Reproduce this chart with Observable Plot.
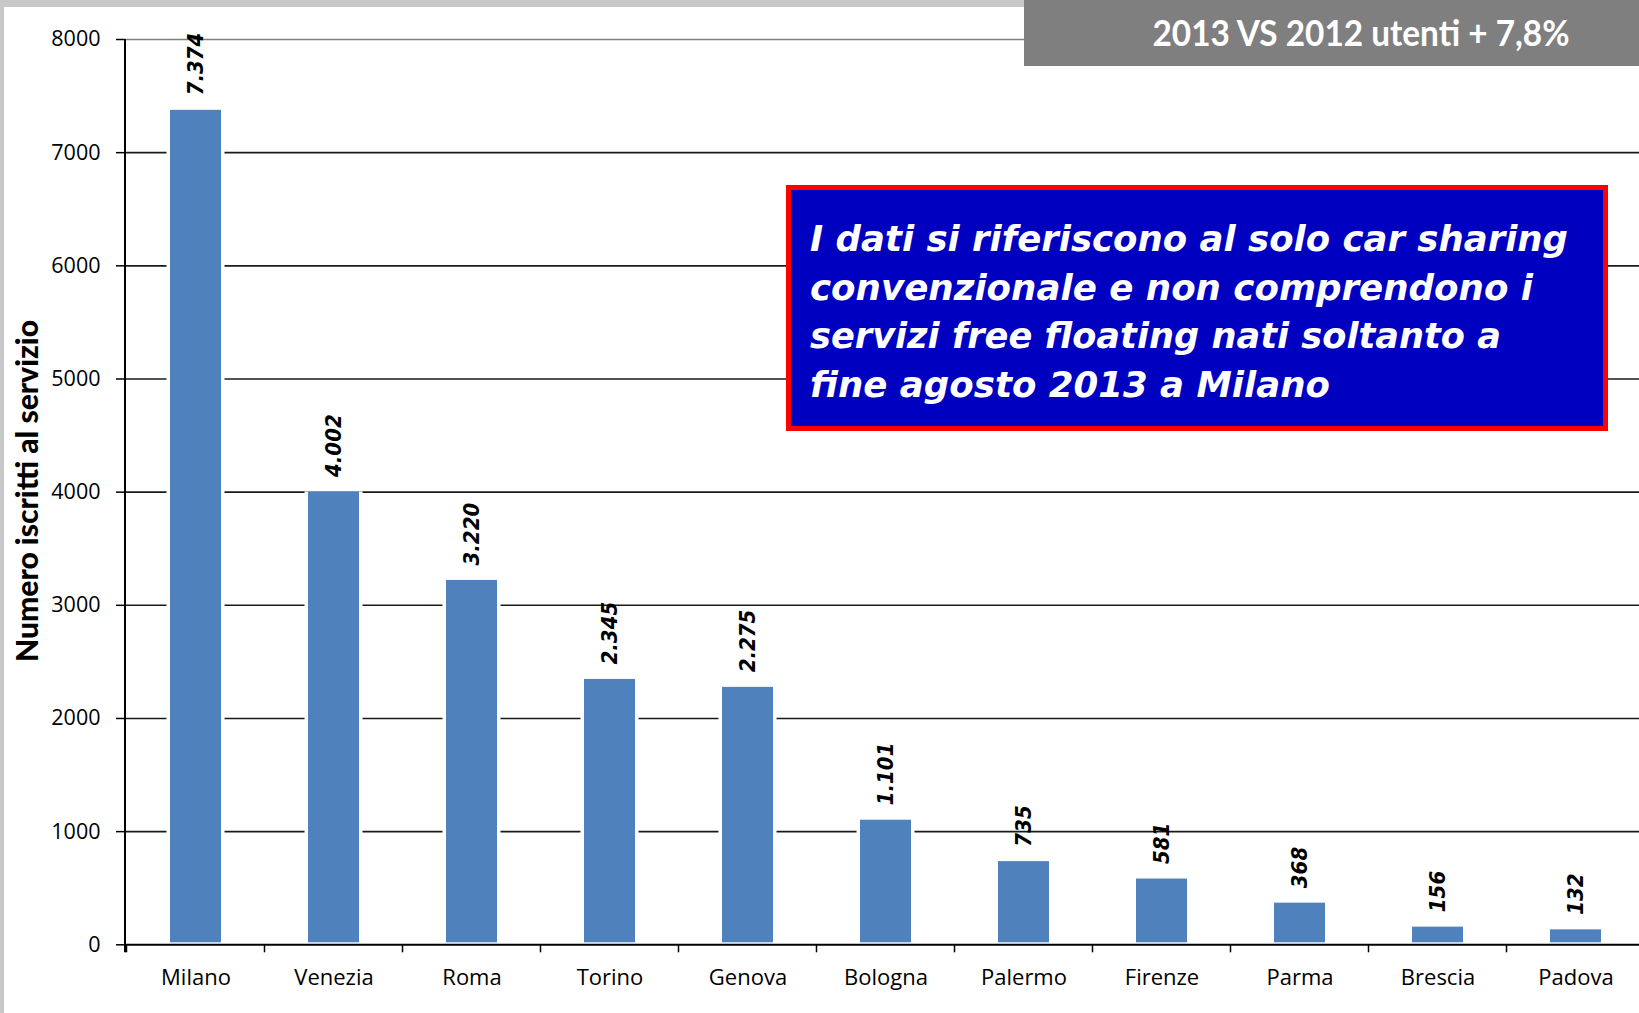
<!DOCTYPE html>
<html><head><meta charset="utf-8">
<script src="https://cdn.jsdelivr.net/npm/d3@7"></script>
<script src="https://cdn.jsdelivr.net/npm/@observablehq/plot@0.6"></script>
<style>
html,body{margin:0;padding:0;background:#fff;}
#wrap{position:relative;width:1639px;height:1013px;overflow:hidden;}
#wrap svg{position:absolute;left:0;top:0;}
</style></head><body><div id="wrap"></div>
<script>
const cities = ["Milano","Venezia","Roma","Torino","Genova","Bologna","Palermo","Firenze","Parma","Brescia","Padova"];
const subscribers = [7374, 4002, 3220, 2345, 2275, 1101, 735, 581, 368, 156, 132];
const yTicks = [0, 1000, 2000, 3000, 4000, 5000, 6000, 7000, 8000];
const yTitle = "Numero iscritti al servizio";
const boxTitle = "2013 VS 2012 utenti + 7,8%";
const noteLines = [
  "I dati si riferiscono al solo car sharing",
  "convenzionale e non comprendono i",
  "servizi free floating nati soltanto a",
  "fine agosto 2013 a Milano"
];

const itLocale = d3.formatLocale({decimal: ",", thousands: ".", grouping: [3], currency: ["", "€"]});
const fmt = itLocale.format(",d");
const data = cities.map((c, i) => ({city: c, value: subscribers[i]}));
const labelFont = "'DejaVu Sans Condensed','DejaVu Sans',sans-serif";

const plot = Plot.plot({
  width: 1639, height: 1013,
  marginTop: 39, marginBottom: 69, marginLeft: 125, marginRight: 0,
  style: {fontFamily: "'Open Sans',sans-serif", color: "#000", background: "transparent", overflow: "hidden"},
  x: {domain: cities, range: [124, 1647], paddingInner: 0.632, paddingOuter: 0.316, label: null},
  y: {domain: [0, 8000], range: [944.3, 39], label: null},
  marks: [
    Plot.ruleY(yTicks.filter(d => d > 0 && d < 8000), {stroke: "#1a1a1a", strokeWidth: 1.6}),
    Plot.ruleY(yTicks.filter(d => d === 8000), {stroke: "#808080", strokeWidth: 1.6}),
    Plot.barY(data, {x: "city", y: "value", fill: "white", insetLeft: -3.5, insetRight: -3.5}),
    Plot.barY(data, {x: "city", y: "value", fill: "#4F81BD", insetBottom: 2}),
    Plot.ruleY([0], {stroke: "#000", strokeWidth: 2}),
    Plot.text(data, {x: "city", y: "value", text: d => fmt(d.value), rotate: -90, textAnchor: "start",
      dy: -15, fontSize: 22, fontWeight: "bold", fontStyle: "italic", fontFamily: labelFont, fill: "#000"}),
    Plot.axisY({ticks: yTicks, tickSize: 9, tickPadding: 16, tickFormat: d => String(d), fontSize: 21.5, label: null, strokeWidth: 1.5}),
    Plot.axisX({tickSize: 0, tickPadding: 25, fontSize: 22, label: null})
  ]
});
document.getElementById("wrap").appendChild(plot);

// axis line + category boundary ticks via the plot's scales
const xs = plot.scale("x"), ys = plot.scale("y");
const n = cities.length;
const step = xs.step ?? (xs.range[1] - xs.range[0]) / (n - xs.paddingInner + 2 * xs.paddingOuter);
const bw = xs.bandwidth ?? step * (1 - xs.paddingInner);
const half = (step - bw) / 2;
const y0 = ys.apply(0);
const sel = d3.select(plot);
const g = sel.append("g").attr("stroke", "#000");
cities.forEach(c => {
  const bx = xs.apply(c) - half;
  g.append("line").attr("x1", bx).attr("x2", bx).attr("y1", y0).attr("y2", y0 + 8).attr("stroke-width", 1.5);
});
g.append("line").attr("x1", 125).attr("x2", 125)
  .attr("y1", ys.apply(8000)).attr("y2", y0 + 8).attr("stroke-width", 2);

// overlay decorations
const ov = d3.select("#wrap").append("svg").attr("width", 1639).attr("height", 1013);
ov.append("rect").attr("x", 0).attr("y", 0).attr("width", 4).attr("height", 1013).attr("fill", "#c8c8c8");
ov.append("rect").attr("x", 0).attr("y", 0).attr("width", 1024).attr("height", 7).attr("fill", "#c8c8c8");
ov.append("rect").attr("x", 1024).attr("y", 0).attr("width", 615).attr("height", 66).attr("fill", "#7f7f7f");
ov.append("text").attr("x", 1361).attr("y", 46).attr("text-anchor", "middle")
  .attr("font-family", "Lato,'Open Sans',sans-serif").attr("font-weight", 700).attr("font-size", 37)
  .attr("fill", "#fff").attr("textLength", 417).attr("lengthAdjust", "spacingAndGlyphs").text(boxTitle);

ov.append("rect").attr("x", 788.5).attr("y", 187.5).attr("width", 817).attr("height", 241)
  .attr("fill", "#0000C0").attr("stroke", "#ff0000").attr("stroke-width", 5);
const noteWidths = [758, 723, 691, 520];
const noteTexts = noteLines.map((t, i) => ov.append("text").attr("x", 810).attr("y", 251 + i * 48.5)
    .attr("font-family", "'DejaVu Sans',sans-serif").attr("font-weight", "bold").attr("font-style", "italic")
    .attr("font-size", 31).attr("fill", "#fff").text(t));
const natural = noteTexts[0].node().getComputedTextLength();
const fs = Math.min(40, 31 * noteWidths[0] / natural);
noteTexts.forEach((s, i) => s.attr("font-size", fs).attr("textLength", noteWidths[i]).attr("lengthAdjust", "spacingAndGlyphs"));

ov.append("text").attr("transform", "translate(38,491) rotate(-90)").attr("text-anchor", "middle")
  .attr("font-family", "Lato,'Open Sans',sans-serif").attr("font-weight", 900).attr("font-size", 31)
  .attr("fill", "#000").attr("textLength", 342).attr("lengthAdjust", "spacingAndGlyphs").text(yTitle);
</script></body></html>
